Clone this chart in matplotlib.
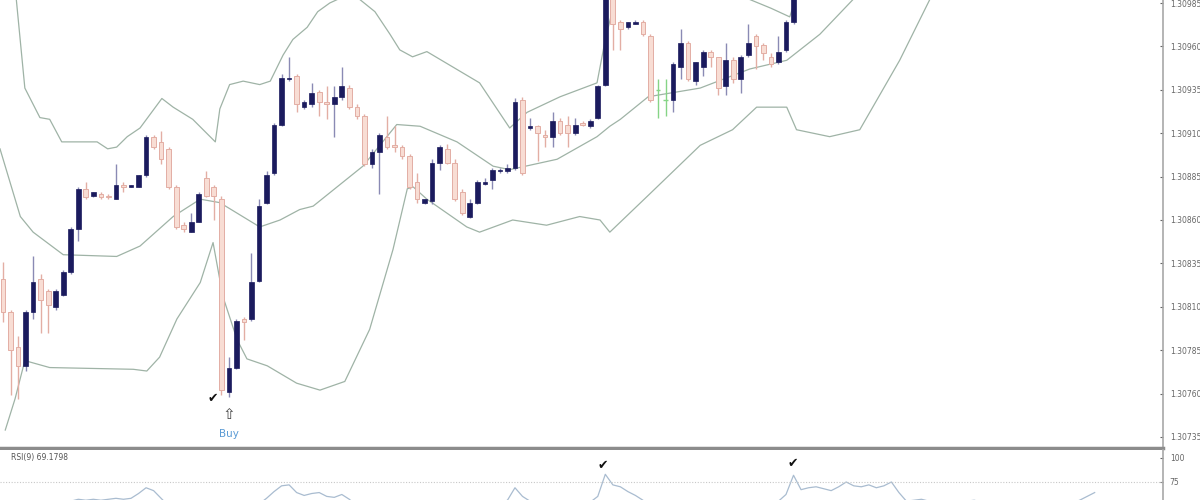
import numpy as np
import matplotlib
matplotlib.use('Agg')
from matplotlib import pyplot as plt

# candles (one per bar, left to right)
opens = [1.30826, 1.30807, 1.30787, 1.30776, 1.30807, 1.30826, 1.30819, 1.30810, 1.30817, 1.30830,
         1.30855, 1.30878, 1.30874, 1.30875, 1.30874, 1.30872, 1.30880, 1.30879, 1.30879, 1.30886,
         1.30908, 1.30905, 1.30901, 1.30879, 1.30857, 1.30853, 1.30859, 1.30884, 1.30879, 1.30872,
         1.30761, 1.30775, 1.30803, 1.30803, 1.30825, 1.30870, 1.30887, 1.30915, 1.30941, 1.30943,
         1.30925, 1.30927, 1.30934, 1.30928, 1.30927, 1.30931, 1.30936, 1.30925, 1.30920, 1.30892,
         1.30899, 1.30908, 1.30903, 1.30902, 1.30897, 1.30882, 1.30870, 1.30871, 1.30893, 1.30901,
         1.30893, 1.30876, 1.30862, 1.30870, 1.30881, 1.30883, 1.30888, 1.30888, 1.30890, 1.30929,
         1.30913, 1.30914, 1.30909, 1.30908, 1.30917, 1.30915, 1.30910, 1.30916, 1.30914, 1.30919,
         1.30938, 1.30990, 1.30974, 1.30971, 1.30973, 1.30974, 1.30966, 1.30935, 1.30929, 1.30929,
         1.30948, 1.30962, 1.30940, 1.30948, 1.30957, 1.30954, 1.30937, 1.30952, 1.30941, 1.30955,
         1.30966, 1.30961, 1.30954, 1.30951, 1.30958, 1.30974]
highs = [1.30836, 1.30808, 1.30793, 1.30808, 1.30839, 1.30829, 1.30820, 1.30820, 1.30831, 1.30856,
         1.30879, 1.30882, 1.30876, 1.30876, 1.30875, 1.30892, 1.30882, 1.30880, 1.30886, 1.30909,
         1.30909, 1.30911, 1.30902, 1.30880, 1.30859, 1.30864, 1.30876, 1.30888, 1.30880, 1.30874,
         1.30781, 1.30803, 1.30804, 1.30841, 1.30872, 1.30888, 1.30916, 1.30944, 1.30954, 1.30944,
         1.30929, 1.30939, 1.30935, 1.30937, 1.30937, 1.30948, 1.30938, 1.30927, 1.30921, 1.30901,
         1.30910, 1.30920, 1.30914, 1.30903, 1.30898, 1.30887, 1.30872, 1.30895, 1.30903, 1.30904,
         1.30895, 1.30878, 1.30872, 1.30883, 1.30884, 1.30890, 1.30890, 1.30892, 1.30930, 1.30931,
         1.30919, 1.30915, 1.30912, 1.30922, 1.30919, 1.30920, 1.30919, 1.30917, 1.30918, 1.30938,
         1.30996, 1.30993, 1.30975, 1.30974, 1.30975, 1.30975, 1.30967, 1.30941, 1.30941, 1.30951,
         1.30970, 1.30963, 1.30951, 1.30958, 1.30958, 1.30954, 1.30962, 1.30954, 1.30955, 1.30973,
         1.30967, 1.30962, 1.30956, 1.30966, 1.30975, 1.30993]
lows = [1.30801, 1.30759, 1.30757, 1.30773, 1.30803, 1.30795, 1.30795, 1.30808, 1.30816, 1.30829,
        1.30848, 1.30872, 1.30873, 1.30872, 1.30872, 1.30872, 1.30876, 1.30879, 1.30879, 1.30885,
        1.30901, 1.30892, 1.30878, 1.30855, 1.30853, 1.30853, 1.30859, 1.30873, 1.30860, 1.30759,
        1.30758, 1.30774, 1.30791, 1.30802, 1.30824, 1.30869, 1.30886, 1.30914, 1.30940, 1.30922,
        1.30924, 1.30925, 1.30920, 1.30918, 1.30908, 1.30929, 1.30924, 1.30918, 1.30891, 1.30890,
        1.30875, 1.30901, 1.30899, 1.30895, 1.30878, 1.30870, 1.30869, 1.30869, 1.30889, 1.30892,
        1.30871, 1.30863, 1.30861, 1.30869, 1.30880, 1.30878, 1.30887, 1.30887, 1.30889, 1.30886,
        1.30912, 1.30894, 1.30902, 1.30902, 1.30909, 1.30902, 1.30909, 1.30914, 1.30913, 1.30918,
        1.30937, 1.30958, 1.30958, 1.30970, 1.30973, 1.30966, 1.30928, 1.30919, 1.30920, 1.30922,
        1.30941, 1.30940, 1.30938, 1.30943, 1.30948, 1.30932, 1.30932, 1.30939, 1.30933, 1.30954,
        1.30947, 1.30952, 1.30948, 1.30950, 1.30957, 1.30973]
closes = [1.30807, 1.30785, 1.30776, 1.30807, 1.30824, 1.30814, 1.30811, 1.30819, 1.30830, 1.30855,
          1.30878, 1.30873, 1.30876, 1.30873, 1.30873, 1.30880, 1.30879, 1.30880, 1.30886, 1.30908,
          1.30902, 1.30895, 1.30879, 1.30856, 1.30855, 1.30859, 1.30875, 1.30874, 1.30874, 1.30762,
          1.30775, 1.30802, 1.30801, 1.30824, 1.30868, 1.30886, 1.30915, 1.30942, 1.30942, 1.30927,
          1.30928, 1.30933, 1.30928, 1.30927, 1.30931, 1.30937, 1.30925, 1.30920, 1.30892, 1.30899,
          1.30909, 1.30902, 1.30902, 1.30897, 1.30879, 1.30872, 1.30872, 1.30893, 1.30902, 1.30893,
          1.30872, 1.30864, 1.30870, 1.30882, 1.30882, 1.30889, 1.30889, 1.30890, 1.30928, 1.30887,
          1.30914, 1.30910, 1.30908, 1.30917, 1.30910, 1.30910, 1.30915, 1.30915, 1.30917, 1.30937,
          1.30993, 1.30973, 1.30970, 1.30974, 1.30974, 1.30967, 1.30929, 1.30935, 1.30929, 1.30950,
          1.30962, 1.30941, 1.30951, 1.30957, 1.30954, 1.30936, 1.30952, 1.30941, 1.30954, 1.30962,
          1.30960, 1.30956, 1.30950, 1.30957, 1.30974, 1.30990]

# bollinger bands, sampled at bar positions
upper_i = [-0.4, 1.5, 2.5, 2.9, 4.9, 6.2, 7.8, 12.5, 13.9, 15.1, 16.5, 18.2, 21.1, 22.6, 25.2, 28.2,
           28.8, 30.1, 31.9, 34.1, 35.5, 37.2, 38.5, 40.4, 41.8, 43.4, 45.4, 47.4, 49.4, 51.4, 52.7,
           54.4, 56.3, 59.8, 63.3, 67.3, 69.6, 74, 78.9, 80, 81.3, 83, 92, 99.2, 102, 104.5, 106.5]
upper_p = [1.31033, 1.30999, 1.30954, 1.30936, 1.30919, 1.30918, 1.30905, 1.30905, 1.30901, 1.30902,
           1.30908, 1.30913, 1.30930, 1.30925, 1.30918, 1.30905, 1.30924, 1.30938, 1.30940, 1.30938,
           1.30940, 1.30955, 1.30964, 1.30971, 1.30980, 1.30985, 1.30989, 1.30987, 1.30980, 1.30967,
           1.30958, 1.30954, 1.30957, 1.30948, 1.30939, 1.30913, 1.30922, 1.30931, 1.30939, 1.30964,
           1.30987, 1.31004, 1.31010, 1.30987, 1.30982, 1.30977, 1.31004]
middle_i = [-0.4, 2.3, 4, 8, 15.1, 18.2, 22.6, 26.2, 28.8, 34.1, 36.8, 39.4, 41.2, 47.8, 52.3, 55.4,
            60.3, 65.1, 67.3, 73.6, 78.9, 80.6, 82, 85.7, 92.6, 99.2, 104.1, 108.5, 112.9, 116]
middle_p = [1.30901, 1.30862, 1.30853, 1.30840, 1.30839, 1.30845, 1.30862, 1.30872, 1.30870, 1.30856,
            1.30860, 1.30866, 1.30868, 1.30891, 1.30915, 1.30914, 1.30905, 1.30891, 1.30889, 1.30895,
            1.30908, 1.30914, 1.30918, 1.30931, 1.30936, 1.30947, 1.30952, 1.30967, 1.30987, 1.31001]
lower_i = [0.3, 1.6, 2.9, 6.2, 17.3, 19.1, 20.8, 23.1, 26.2, 27.9, 29.2, 31.1, 32.4, 35.1, 39, 42.1,
           45.4, 48.7, 51.8, 53.7, 54.5, 56.3, 61.6, 63.3, 67.7, 72.2, 76.6, 79.3, 80.6, 85.9, 92.6,
           96.9, 100.1, 104.1, 105.4, 109.8, 113.8, 119.1, 123.1, 126]
lower_p = [1.30739, 1.30757, 1.30779, 1.30775, 1.30774, 1.30773, 1.30781, 1.30803, 1.30824, 1.30847,
           1.30816, 1.30791, 1.30780, 1.30776, 1.30766, 1.30762, 1.30767, 1.30797, 1.30843, 1.30878,
           1.30879, 1.30872, 1.30856, 1.30853, 1.30860, 1.30857, 1.30862, 1.30860, 1.30853, 1.30875,
           1.30903, 1.30912, 1.30925, 1.30925, 1.30912, 1.30908, 1.30912, 1.30952, 1.30987, 1.31010]

# RSI(9), one value per bar
rsi = [48, 42, 40, 47, 52, 50, 49, 51, 53, 55,
       57, 56, 57, 56, 57, 58, 57, 58, 63, 69,
       66, 58, 50, 42, 40, 41, 45, 44, 46, 25,
       30, 38, 37, 45, 52, 58, 65, 71, 72, 64,
       61, 63, 64, 60, 59, 62, 57, 50, 42, 45,
       50, 48, 47, 45, 40, 38, 38, 48, 52, 50,
       44, 40, 43, 48, 49, 52, 53, 56, 69, 60,
       55, 52, 50, 54, 52, 51, 53, 52, 54, 60,
       83, 72, 70, 65, 61, 56, 45, 47, 46, 50,
       54, 50, 52, 54, 53, 48, 52, 50, 53, 55,
       54, 52, 50, 55, 62, 82, 67, 69, 70, 68,
       66, 70, 75, 71, 70, 72, 69, 71, 75, 64,
       55, 56, 57, 55, 54, 52, 50, 53, 55, 56,
       54, 52, 50, 48, 47, 49, 51, 50, 48, 46,
       48, 50, 53, 56, 60, 64]

price_ticks = [1.30735, 1.30760, 1.30785, 1.30810, 1.30835, 1.30860,
               1.30885, 1.30910, 1.30935, 1.30960, 1.30985]
rsi_ticks = [75, 100]

bull_body = '#1b1b5e'
bull_wick = '#8a8ab4'
bear_body = '#f8ddd4'
bear_edge = '#e3aea4'
doji_col = '#86d486'
band_col = '#9fb3a6'

fig = plt.figure(figsize=(12, 5), dpi=100)
ax = fig.add_axes([0, 0.104, 0.969, 0.896])
ax2 = fig.add_axes([0, 0, 0.969, 0.1])

# bands
ax.plot(upper_i, upper_p, color=band_col, lw=0.9)
ax.plot(middle_i, middle_p, color=band_col, lw=0.9)
ax.plot(lower_i, lower_p, color=band_col, lw=0.9)

# candles
o = np.array(opens)
h = np.array(highs)
l = np.array(lows)
c = np.array(closes)
x = np.arange(len(o))
up = c > o
dn = c < o
dj = c == o

ax.vlines(x[up], l[up], h[up], color=bull_wick, lw=1.0, zorder=2)
ax.vlines(x[dn], l[dn], h[dn], color=bear_edge, lw=1.0, zorder=2)
ax.vlines(x[dj], l[dj], h[dj], color=doji_col, lw=1.0, zorder=2)
ax.bar(x[up], (c - o)[up], bottom=o[up], width=0.62, color=bull_body,
       edgecolor=bull_body, lw=0.5, zorder=3)
ax.bar(x[dn], (o - c)[dn], bottom=c[dn], width=0.62, color=bear_body,
       edgecolor=bear_edge, lw=0.7, zorder=3)
ax.hlines(o[dj], x[dj] - 0.31, x[dj] + 0.31, color=doji_col, lw=1.0, zorder=3)

# buy signal
ax.text(27.8, 1.30757, '\u2714', fontsize=9, color='#111111', ha='center', va='center')
ax.text(30.0, 1.30748, '\u21e7', fontsize=11, color='#444444', ha='center', va='center')
ax.text(30.0, 1.30737, 'Buy', fontsize=7.5, color='#5b9bd5', ha='center', va='center')

ax.set_xlim(-0.4, 154.05)
ax.set_ylim(1.3072866, 1.3098673)
ax.set_xticks([])
ax.yaxis.tick_right()
ax.set_yticks(price_ticks)
ax.set_yticklabels(['%.5f' % t for t in price_ticks])
ax.tick_params(axis='y', direction='in', length=2, width=0.8, color='#666666',
               labelsize=5.5, labelcolor='#666666', pad=5)
ax.spines['top'].set_visible(False)
ax.spines['left'].set_visible(False)
ax.spines['right'].set_color('#a8a8a8')
ax.spines['right'].set_linewidth(1.2)
ax.spines['bottom'].set_color('#8c8c8c')
ax.spines['bottom'].set_linewidth(2.5)

# RSI panel
ax2.plot(np.arange(len(rsi)), rsi, color='#a9bcd0', lw=0.9)
ax2.axhline(75, color='#c8c8c8', lw=0.8, ls=(0, (1, 1.5)))
ax2.text(1, 100, 'RSI(9) 69.1798', fontsize=5.5, color='#555555', va='center', ha='left')
ax2.text(79.7, 92.5, '\u2714', fontsize=9, color='#111111', ha='center', va='center')
ax2.text(104.9, 94.5, '\u2714', fontsize=9, color='#111111', ha='center', va='center')
ax2.set_xlim(-0.4, 154.05)
ax2.set_ylim(56.25, 108.3)
ax2.set_xticks([])
ax2.yaxis.tick_right()
ax2.set_yticks(rsi_ticks)
ax2.set_yticklabels([str(t) for t in rsi_ticks])
ax2.tick_params(axis='y', direction='in', length=2, width=0.8, color='#666666',
                labelsize=5.5, labelcolor='#666666', pad=5)
for s in ['top', 'left', 'bottom']:
    ax2.spines[s].set_visible(False)
ax2.spines['right'].set_color('#a8a8a8')
ax2.spines['right'].set_linewidth(1.2)

fig.savefig('out.png', dpi=100)
